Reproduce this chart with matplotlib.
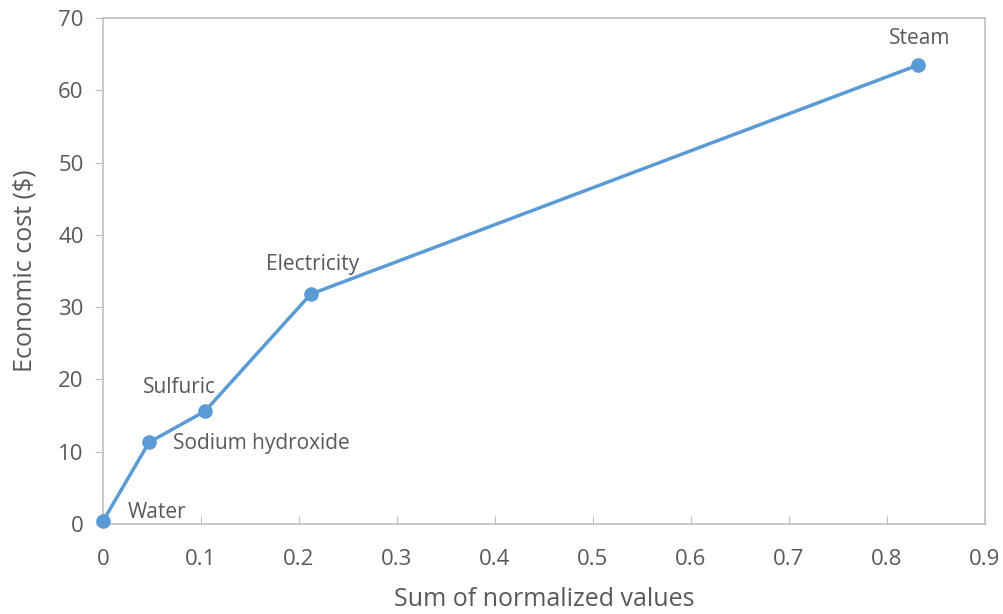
import matplotlib.pyplot as plt

plt.rcParams['font.family'] = ['Open Sans', 'DejaVu Sans']

# data
labels = ['Water', 'Sodium hydroxide', 'Sulfuric', 'Electricity', 'Steam']
norm_sum = [0.0, 0.047, 0.104, 0.212, 0.832]
cost = [0.4, 11.3, 15.6, 31.8, 63.5]

# label offsets in points and alignment
offsets = [(18, 6), (17, -1), (-18, 17), (1, 21), (1, 19)]
aligns = ['left', 'left', 'center', 'center', 'center']

blue = '#5B9BD5'
grey = '#595959'
spine = '#BFBFBF'

fig = plt.figure(figsize=(10.04, 6.14), dpi=100)
ax = fig.add_axes([0.1026, 0.1466, 0.8784, 0.8241])

ax.plot(norm_sum, cost, color=blue, lw=2.5, marker='o', ms=9.5, zorder=3,
        clip_on=False)

for lab, x, y, off, ha in zip(labels, norm_sum, cost, offsets, aligns):
    ax.annotate(lab, (x, y), xytext=off, textcoords='offset points',
                ha=ha, va='center', fontsize=15, color=grey)

ax.set_xlim(0, 0.9)
ax.set_ylim(0, 70)
ax.set_xticks([0, 0.1, 0.2, 0.3, 0.4, 0.5, 0.6, 0.7, 0.8, 0.9])
ax.set_xticklabels(['0', '0.1', '0.2', '0.3', '0.4', '0.5', '0.6', '0.7', '0.8', '0.9'])
ax.set_yticks(range(0, 71, 10))

for s in ax.spines.values():
    s.set_color(spine)
    s.set_linewidth(1.2)

ax.tick_params(axis='x', direction='in', length=6, color=spine, labelsize=16,
               labelcolor=grey, pad=18)
ax.tick_params(axis='y', direction='out', length=6, color=spine, labelsize=16,
               labelcolor=grey, pad=8)

ax.set_xlabel('Sum of normalized values', fontsize=18, color=grey, labelpad=12)
ax.set_ylabel('Economic cost ($)', fontsize=18, color=grey, labelpad=15)

fig.savefig('out.png', dpi=100)
